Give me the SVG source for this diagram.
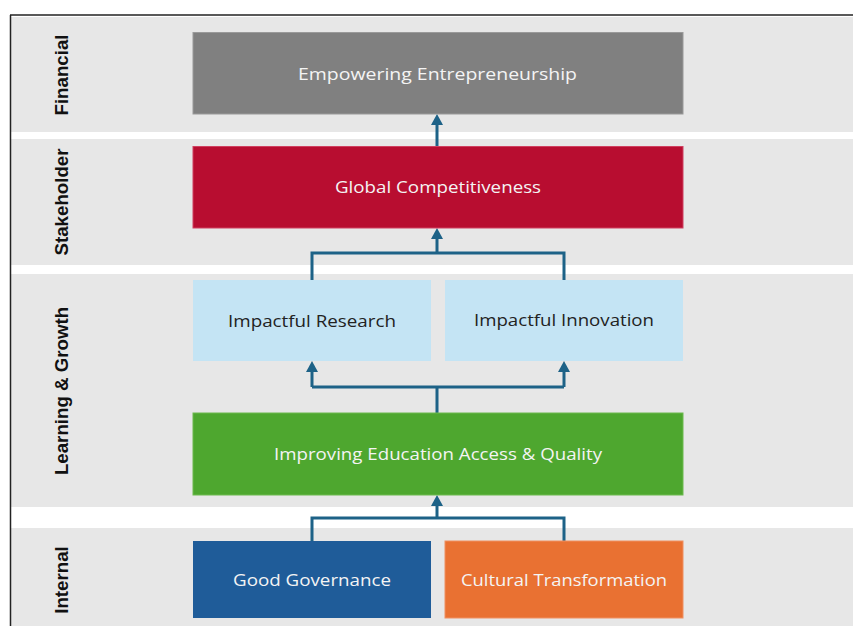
<svg xmlns="http://www.w3.org/2000/svg" width="853" height="626" viewBox="0 0 853 626">
<style>
.band{fill:#E7E7E7}
.lane{font-family:"Liberation Sans",Arial,sans-serif;font-weight:bold;font-size:18.7px;fill:#111;text-anchor:middle}
.t{font-family:"Open Sans","Noto Sans",sans-serif;font-size:16.5px;text-anchor:middle;dominant-baseline:central}
.w{fill:#F4F4F4}
.d{fill:#222}
.conn{fill:none;stroke:#1D6287;stroke-width:3}
</style>
<defs>
<marker id="ah" viewBox="0 0 11 12" refX="0" refY="6" markerWidth="11" markerHeight="12" markerUnits="userSpaceOnUse" orient="auto">
<path d="M0,0 L11,6 L0,12 z" fill="#1D6287"/>
</marker>
</defs>
<rect width="853" height="626" fill="#fff"/>
<g id="lanes">
<rect class="band" x="11" y="17" width="842" height="115"/>
<rect class="band" x="11" y="139" width="842" height="126"/>
<rect class="band" x="11" y="274" width="842" height="233"/>
<rect class="band" x="11" y="528" width="842" height="98"/>
<line x1="10" y1="15" x2="853" y2="15" stroke="#222" stroke-width="1.5"/>
<line x1="10.5" y1="15" x2="10.5" y2="626" stroke="#222" stroke-width="1.5"/>
<text class="lane" transform="translate(68,75) rotate(-90)">Financial</text>
<text class="lane" transform="translate(68,202) rotate(-90)">Stakeholder</text>
<text class="lane" transform="translate(68,391) rotate(-90)">Learning &amp; Growth</text>
<text class="lane" transform="translate(68,580) rotate(-90)">Internal</text>
</g>
<g id="connectors">
<path class="conn" d="M437,146 V125" marker-end="url(#ah)"/>
<path class="conn" d="M312,280 V253 H564 V280"/>
<path class="conn" d="M437,253 V239" marker-end="url(#ah)"/>
<path class="conn" d="M437,413 V387 M312,387 H564"/>
<path class="conn" d="M312,387 V372" marker-end="url(#ah)"/>
<path class="conn" d="M564,387 V372" marker-end="url(#ah)"/>
<path class="conn" d="M312,541 V518 H564 V541"/>
<path class="conn" d="M437,518 V506" marker-end="url(#ah)"/>
</g>
<g id="empowering">
<rect x="193" y="32.5" width="490" height="81.5" fill="#808080" stroke="#9A9A9A" stroke-width="1"/>
<text class="t w" x="437.5" y="73" textLength="279" lengthAdjust="spacingAndGlyphs">Empowering Entrepreneurship</text>
</g>
<g id="global">
<rect x="193" y="146.5" width="490" height="81.5" fill="#B80D30" stroke="#D04060" stroke-width="1"/>
<text class="t w" x="438" y="186" textLength="206" lengthAdjust="spacingAndGlyphs">Global Competitiveness</text>
</g>
<g id="research">
<rect x="193" y="280" width="238" height="81" fill="#C4E4F4"/>
<text class="t d" x="312" y="320" textLength="168" lengthAdjust="spacingAndGlyphs">Impactful Research</text>
</g>
<g id="innovation">
<rect x="445" y="280" width="238" height="81" fill="#C4E4F4"/>
<text class="t d" x="564" y="319" textLength="180" lengthAdjust="spacingAndGlyphs">Impactful Innovation</text>
</g>
<g id="education">
<rect x="193" y="413" width="490" height="82" fill="#4EA72F" stroke="#6CBA4E" stroke-width="1"/>
<text class="t w" x="438" y="453" textLength="328" lengthAdjust="spacingAndGlyphs">Improving Education Access &amp; Quality</text>
</g>
<g id="governance">
<rect x="193" y="541" width="238" height="77" fill="#1F5C99"/>
<text class="t w" x="312" y="579" textLength="158" lengthAdjust="spacingAndGlyphs">Good Governance</text>
</g>
<g id="cultural">
<rect x="445" y="541" width="238" height="77" fill="#E97132" stroke="#F09060" stroke-width="1"/>
<text class="t w" x="564" y="579" textLength="206" lengthAdjust="spacingAndGlyphs">Cultural Transformation</text>
</g>
</svg>
